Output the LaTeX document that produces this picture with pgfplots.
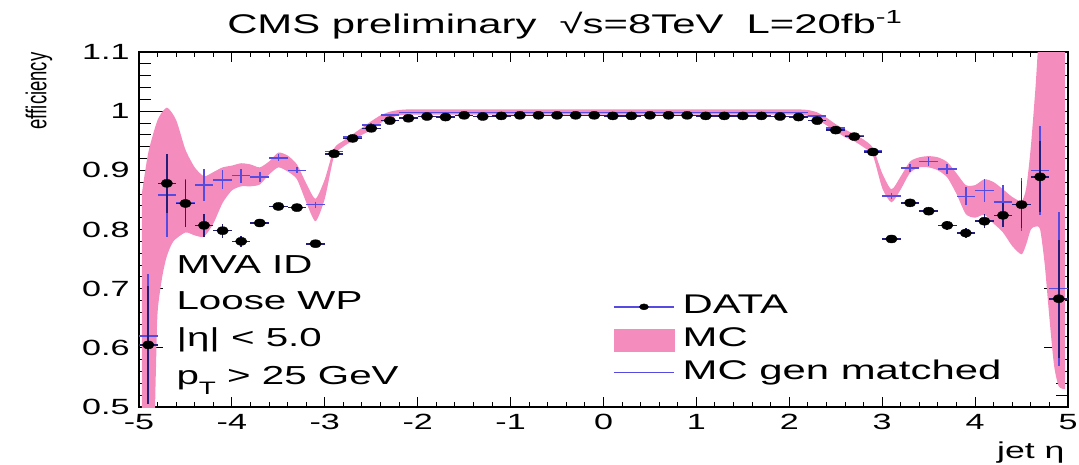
\documentclass[border=0pt]{standalone}
\usepackage{pgfplots}
\pgfplotsset{compat=1.18}
\usepgfplotslibrary{fillbetween}
\usepackage{pgfplotstable}
\usepackage{fontspec}
\setmainfont{Liberation Sans}
\usepackage{graphicx}
\definecolor{mcpink}{RGB}{245,140,190}
\definecolor{mcblue}{RGB}{85,75,225}
\definecolor{datablue}{RGB}{35,30,120}
\newcommand{\sx}[1]{\scalebox{1.55}[1]{#1}}

\pgfplotstableread{
x y ex ey
-4.9 0.605 0.1 0.10
-4.7 0.878 0.1 0.05
-4.5 0.844 0.1 0.04
-4.3 0.807 0.1 0.02
-4.1 0.798 0.1 0.012
-3.9 0.780 0.1 0.009
-3.7 0.811 0.1 0.007
-3.5 0.839 0.1 0.006
-3.3 0.837 0.1 0.005
-3.1 0.776 0.1 0.005
-2.9 0.928 0.1 0.004
-2.7 0.954 0.1 0.003
-2.5 0.971 0.1 0.003
-2.3 0.984 0.1 0.002
-2.1 0.988 0.1 0.002
-1.9 0.991 0.1 0.002
-1.7 0.990 0.1 0.002
-1.5 0.993 0.1 0.002
-1.3 0.991 0.1 0.002
-1.1 0.992 0.1 0.002
-0.9 0.993 0.1 0.002
-0.7 0.993 0.1 0.002
-0.5 0.993 0.1 0.002
-0.3 0.993 0.1 0.002
-0.1 0.993 0.1 0.002
0.1 0.992 0.1 0.002
0.3 0.992 0.1 0.002
0.5 0.993 0.1 0.002
0.7 0.993 0.1 0.002
0.9 0.993 0.1 0.002
1.1 0.992 0.1 0.002
1.3 0.992 0.1 0.002
1.5 0.992 0.1 0.002
1.7 0.992 0.1 0.002
1.9 0.991 0.1 0.002
2.1 0.990 0.1 0.002
2.3 0.984 0.1 0.002
2.5 0.968 0.1 0.003
2.7 0.957 0.1 0.003
2.9 0.931 0.1 0.004
3.1 0.784 0.1 0.005
3.3 0.845 0.1 0.005
3.5 0.831 0.1 0.006
3.7 0.807 0.1 0.007
3.9 0.794 0.1 0.009
4.1 0.814 0.1 0.012
4.3 0.824 0.1 0.02
4.5 0.842 0.1 0.04
4.7 0.889 0.1 0.06
4.9 0.683 0.1 0.10
}\datatab

\pgfplotstableread{
x y ex ey
-4.9 0.620 0.1 0.105
-4.7 0.858 0.1 0.070
-4.5 0.845 0.1 0.040
-4.3 0.875 0.1 0.027
-4.1 0.884 0.1 0.016
-3.9 0.891 0.1 0.012
-3.7 0.889 0.1 0.008
-3.5 0.921 0.1 0.006
-3.3 0.900 0.1 0.005
-3.1 0.842 0.1 0.005
-2.9 0.932 0.1 0.004
-2.7 0.956 0.1 0.003
-2.5 0.977 0.1 0.003
-2.3 0.994 0.1 0.002
-2.1 0.998 0.1 0.001
-1.9 0.998 0.1 0.001
-1.7 0.998 0.1 0.001
-1.5 0.998 0.1 0.001
-1.3 0.998 0.1 0.001
-1.1 0.998 0.1 0.001
-0.9 0.998 0.1 0.001
-0.7 0.998 0.1 0.001
-0.5 0.998 0.1 0.001
-0.3 0.998 0.1 0.001
-0.1 0.998 0.1 0.001
0.1 0.998 0.1 0.001
0.3 0.998 0.1 0.001
0.5 0.998 0.1 0.001
0.7 0.998 0.1 0.001
0.9 0.998 0.1 0.001
1.1 0.998 0.1 0.001
1.3 0.998 0.1 0.001
1.5 0.998 0.1 0.001
1.7 0.998 0.1 0.001
1.9 0.998 0.1 0.001
2.1 0.998 0.1 0.001
2.3 0.992 0.1 0.002
2.5 0.972 0.1 0.003
2.7 0.959 0.1 0.003
2.9 0.933 0.1 0.004
3.1 0.857 0.1 0.005
3.3 0.904 0.1 0.006
3.5 0.915 0.1 0.007
3.7 0.902 0.1 0.009
3.9 0.856 0.1 0.015
4.1 0.866 0.1 0.020
4.3 0.846 0.1 0.030
4.5 0.842 0.1 0.045
4.7 0.900 0.1 0.075
4.9 0.700 0.1 0.130
}\mcgentab

\pgfplotstableread{
x y
-4.97 0.86
-4.9 0.93
-4.8 0.985
-4.7 1.006
-4.6 0.985
-4.5 0.935
-4.4 0.905
-4.3 0.890
-4.2 0.897
-4.1 0.905
-4.0 0.908
-3.9 0.912
-3.8 0.910
-3.7 0.905
-3.6 0.915
-3.5 0.930
-3.4 0.925
-3.3 0.910
-3.2 0.878
-3.1 0.852
-3.0 0.885
-2.9 0.937
-2.8 0.950
-2.7 0.961
-2.6 0.972
-2.5 0.983
-2.4 0.993
-2.3 0.999
-2.2 1.002
-2.1 1.003
-2.0 1.003
-1.0 1.003
0.0 1.003
1.0 1.003
2.0 1.003
2.1 1.003
2.2 1.002
2.3 0.998
2.4 0.989
2.5 0.978
2.6 0.969
2.7 0.961
2.8 0.952
2.9 0.938
3.0 0.895
3.1 0.868
3.2 0.890
3.3 0.915
3.4 0.922
3.5 0.924
3.6 0.922
3.7 0.914
3.8 0.895
3.9 0.875
4.0 0.875
4.1 0.885
4.2 0.880
4.3 0.868
4.4 0.855
4.5 0.848
4.55 0.870
4.6 0.940
4.65 1.040
4.7 1.150
4.8 1.200
4.9 1.200
4.97 1.150
}\bandup

\pgfplotstableread{
x y
-4.97 0.40
-4.85 0.40
-4.82 0.55
-4.8 0.66
-4.75 0.72
-4.7 0.755
-4.63 0.780
-4.5 0.795
-4.4 0.790
-4.3 0.788
-4.2 0.810
-4.1 0.845
-4.0 0.866
-3.9 0.873
-3.8 0.873
-3.7 0.876
-3.6 0.893
-3.5 0.905
-3.4 0.898
-3.3 0.885
-3.2 0.846
-3.1 0.814
-3.0 0.852
-2.9 0.924
-2.8 0.940
-2.7 0.950
-2.6 0.960
-2.5 0.968
-2.4 0.980
-2.3 0.988
-2.2 0.993
-2.1 0.994
-2.0 0.994
-1.0 0.994
0.0 0.994
1.0 0.994
2.0 0.994
2.1 0.994
2.2 0.992
2.3 0.986
2.4 0.976
2.5 0.966
2.6 0.956
2.7 0.949
2.8 0.939
2.9 0.925
3.0 0.870
3.1 0.846
3.2 0.868
3.3 0.896
3.4 0.905
3.5 0.905
3.6 0.900
3.7 0.888
3.8 0.860
3.9 0.826
4.0 0.820
4.1 0.825
4.2 0.810
4.3 0.795
4.4 0.772
4.5 0.758
4.55 0.775
4.6 0.800
4.65 0.805
4.7 0.800
4.75 0.740
4.8 0.650
4.85 0.570
4.9 0.535
4.97 0.530
}\banddown

\begin{document}
\begin{tikzpicture}
\begin{axis}[
  name=ax,
  at={(0pt,0pt)}, anchor=south west,
  scale only axis, width=929pt, height=355pt,
  clip mode=individual,
  xmin=-5, xmax=5, ymin=0.5, ymax=1.1,
  xtick={-5,-4,-3,-2,-1,0,1,2,3,4,5},
  xticklabels={\sx{-5},\sx{-4},\sx{-3},\sx{-2},\sx{-1},\sx{0},\sx{1},\sx{2},\sx{3},\sx{4},\sx{5}},
  ytick={0.5,0.6,0.7,0.8,0.9,1.0,1.1},
  yticklabels={\sx{0.5},\sx{0.6},\sx{0.7},\sx{0.8},\sx{0.9},\sx{1},\sx{1.1}},
  minor x tick num=4, minor y tick num=4,
  tick align=inside,
  xtick style={black, line width=1pt, /pgfplots/major tick length=10pt, /pgfplots/minor tick length=5pt},
  ytick style={black, line width=1pt, /pgfplots/major tick length=24pt, /pgfplots/minor tick length=12pt},
  axis line style={black, line width=1.8pt},
  tick label style={font=\fontsize{22}{25}\selectfont},
  xticklabel style={yshift=-4pt},
  yticklabel style={xshift=-6pt},
  legend cell align=left,
  legend style={at={(0.507,0.325)}, anchor=north west, draw=none, fill=none,
    font=\fontsize{27}{30}\selectfont, row sep=7pt, column sep=8pt,
    nodes={inner sep=0pt, text height=20pt, text depth=6pt}},
]
\addplot[name path=up, draw=none, forget plot, smooth, tension=0.4] table[x=x,y=y] {\bandup};
\addplot[name path=down, draw=none, forget plot, smooth, tension=0.4] table[x=x,y=y] {\banddown};
\addplot[mcpink, forget plot] fill between[of=up and down];

\addplot[only marks, mark=*, mark size=0.2pt, mcblue, forget plot,
  error bars/.cd, x dir=both, x explicit, y dir=both, y explicit,
  error mark=none, error bar style={line width=1.6pt, mcblue}]
  table[x=x, y=y, x error=ex, y error=ey] {\mcgentab};

\addplot[only marks, mark=*, mark size=4pt, mark options={xscale=1.45, fill=black, draw=black}, forget plot,
  error bars/.cd, x dir=both, x explicit, y dir=both, y explicit,
  error mark=none, error bar style={line width=1.6pt, datablue}]
  table[x=x, y=y, x error=ex, y error=ey] {\datatab};

\addlegendimage{legend image code/.code={\draw[mcblue, line width=1.5pt] (0pt,0pt) -- (60pt,0pt); \fill[black] (30pt,0pt) ellipse (4.5pt and 3pt);}}
\addlegendentry{\sx{DATA}}
\addlegendimage{legend image code/.code={\fill[mcpink] (0pt,-11pt) rectangle (60pt,11pt);}}
\addlegendentry{\sx{MC}}
\addlegendimage{legend image code/.code={\draw[mcblue, line width=1.2pt] (0pt,0pt) -- (60pt,0pt);}}
\addlegendentry{\sx{MC gen matched}}

\node[anchor=base west, font=\fontsize{26}{30}\selectfont] at (rel axis cs:0.0366,0.3757) {\sx{MVA ID}};
\node[anchor=base west, font=\fontsize{26}{30}\selectfont] at (rel axis cs:0.0366,0.274) {\sx{Loose WP}};
\node[anchor=base west, font=\fontsize{26}{30}\selectfont] at (rel axis cs:0.0366,0.1695) {\sx{|η| < 5.0}};
\node[anchor=base west, font=\fontsize{26}{30}\selectfont] at (rel axis cs:0.0366,0.0621) {\sx{p\raisebox{-0.35em}{\fontsize{18}{20}\selectfont T} > 25 GeV}};
\end{axis}
\node[anchor=base, font=\fontsize{27}{30}\selectfont] at ([xshift=426pt,yshift=19pt]ax.north west)
  {\sx{CMS preliminary\ \ √s=8TeV\ \ L=20fb\textsuperscript{-1}}};
\node[rotate=90, anchor=east, font=\fontsize{18.5}{22}\selectfont] at ([xshift=-100pt,yshift=3pt]ax.north west)
  {\scalebox{1}[1.55]{efficiency}};
\node[anchor=base east, font=\fontsize{23}{26}\selectfont] at ([yshift=-51pt]ax.south east) {\sx{jet η}};
\pgfresetboundingbox
\useasboundingbox (-139pt,-57pt) rectangle (940pt,407pt);
\end{tikzpicture}
\end{document}
